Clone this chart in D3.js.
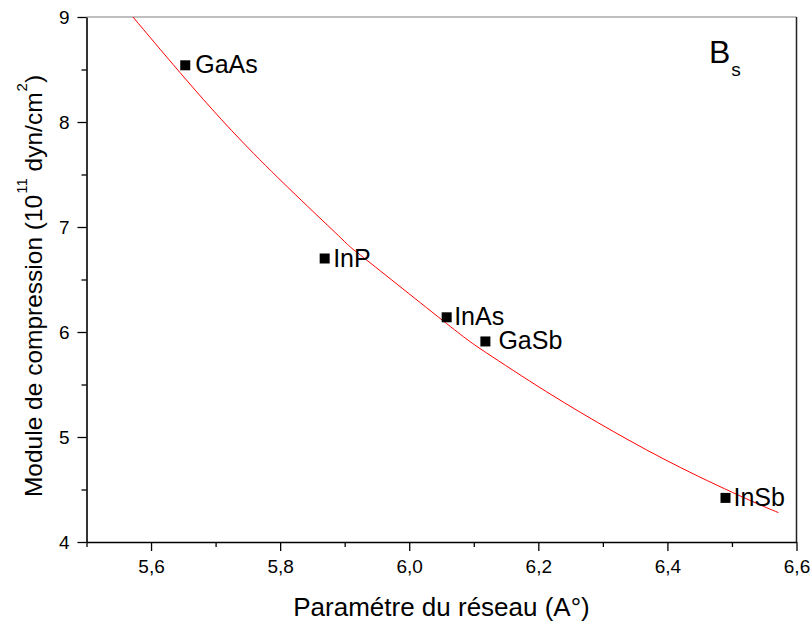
<!DOCTYPE html>
<html><head><meta charset="utf-8">
<script src="https://cdn.jsdelivr.net/npm/d3@7"></script>
<style>body{margin:0;background:#fff}svg{display:block;font-family:Arial,"Liberation Sans",sans-serif}</style>
</head><body>
<svg id="c" width="811" height="625"></svg>
<script>
// Data
const materials = ["GaAs", "InP", "InAs", "GaSb", "InSb"];
const latticeParam = [5.653, 5.869, 6.058, 6.118, 6.490];
const bulkModulus = [8.54, 6.70, 6.14, 5.91, 4.42];
// Fitted curve, points
const fitA = [5.572, 5.645, 5.759, 5.890, 5.929, 6.058, 6.120, 6.213, 6.317, 6.420, 6.523, 6.572];
const fitB = [9.00, 8.47, 7.70, 6.92, 6.71, 6.08, 5.80, 5.43, 5.05, 4.71, 4.41, 4.28];
const xMajorTicks = [5.6, 5.8, 6.0, 6.2, 6.4, 6.6];
const xMinorTicks = [5.5, 5.7, 5.9, 6.1, 6.3, 6.5];
const yMajorTicks = [4, 5, 6, 7, 8, 9];
const yMinorTicks = [4.5, 5.5, 6.5, 7.5, 8.5];

// Layout (style, not data)
const labelDx = {GaAs: 10, InP: 8.5, InAs: 7.5, GaSb: 13, InSb: 8};
const M = {left: 86.5, right: 796.5, top: 17, bottom: 542};

const svg = d3.select("#c");
const x = d3.scaleLinear().domain([5.5, 6.6]).range([M.left, M.right]);
const y = d3.scaleLinear().domain([4, 9]).range([M.bottom, M.top]);
const fmt = d => d3.format(".1f")(d).replace(".", ",");

// frame top & right
svg.append("line").attr("x1", M.left).attr("x2", M.right).attr("y1", M.top).attr("y2", M.top)
  .attr("stroke", "#808080").attr("stroke-width", 1.2);
svg.append("line").attr("x1", M.right).attr("x2", M.right).attr("y1", M.top).attr("y2", M.bottom)
  .attr("stroke", "#222").attr("stroke-width", 1.5);

// x axis
const gx = svg.append("g").attr("transform", `translate(0,${M.bottom})`);
gx.call(d3.axisBottom(x).tickValues(xMajorTicks).tickFormat(fmt).tickSize(9).tickPadding(9).tickSizeOuter(0));
const gxm = svg.append("g").attr("transform", `translate(0,${M.bottom})`);
gxm.call(d3.axisBottom(x).tickValues(xMinorTicks).tickFormat("").tickSize(5).tickSizeOuter(0));
gxm.select(".domain").remove();

// y axis
const gy = svg.append("g").attr("transform", `translate(${M.left},0)`);
gy.call(d3.axisLeft(y).tickValues(yMajorTicks).tickFormat(d3.format("d")).tickSize(9).tickPadding(8).tickSizeOuter(0));
const gym = svg.append("g").attr("transform", `translate(${M.left},0)`);
gym.call(d3.axisLeft(y).tickValues(yMinorTicks).tickFormat("").tickSize(5).tickSizeOuter(0));
gym.select(".domain").remove();

svg.selectAll(".domain").attr("stroke", "#000").attr("stroke-width", 1.6);
svg.selectAll(".tick line").attr("stroke", "#000").attr("stroke-width", 1.3);
svg.selectAll(".tick text").attr("font-size", 19).attr("fill", "#000")
  .attr("font-family", "Arial, 'Liberation Sans', sans-serif");

// fit curve
const pts = fitA.map((a, i) => [a, fitB[i]]);
svg.append("path").datum(pts)
  .attr("d", d3.line().x(d => x(d[0])).y(d => y(d[1])).curve(d3.curveNatural))
  .attr("fill", "none").attr("stroke", "#ff0000").attr("stroke-width", 1);

// points
const data = materials.map((m, i) => ({m, a: latticeParam[i], b: bulkModulus[i]}));
svg.selectAll("rect.pt").data(data).join("rect").attr("class", "pt")
  .attr("x", d => x(d.a) - 5).attr("y", d => y(d.b) - 5)
  .attr("width", 10).attr("height", 10).attr("fill", "#000");
svg.selectAll("text.lab").data(data).join("text").attr("class", "lab")
  .attr("x", d => x(d.a) + labelDx[d.m]).attr("y", d => y(d.b) + 8)
  .attr("font-size", 25).attr("fill", "#000").text(d => d.m);

// Bs annotation
const bs = svg.append("text").attr("x", 709).attr("y", 63).attr("font-size", 32).attr("fill", "#000");
bs.append("tspan").text("B");
bs.append("tspan").attr("font-size", 19).attr("dy", 13).attr("dx", 1).text("s");

// axis titles
svg.append("text").attr("x", (M.left + M.right) / 2).attr("y", 616).attr("text-anchor", "middle")
  .attr("font-size", 26).attr("fill", "#000").text("Paramétre du réseau (A°)");
const yt = svg.append("text").attr("transform", `translate(42,286) rotate(-90)`)
  .attr("text-anchor", "middle").attr("font-size", 24.5).attr("fill", "#000");
yt.append("tspan").text("Module de compression (10");
yt.append("tspan").attr("font-size", 15).attr("dy", -15).attr("dx", 1).text("11");
yt.append("tspan").attr("dy", 15).text(" dyn/cm");
yt.append("tspan").attr("font-size", 15).attr("dy", -15).attr("dx", 1).text("2");
yt.append("tspan").attr("dy", 15).text(")");
</script>
</body></html>
